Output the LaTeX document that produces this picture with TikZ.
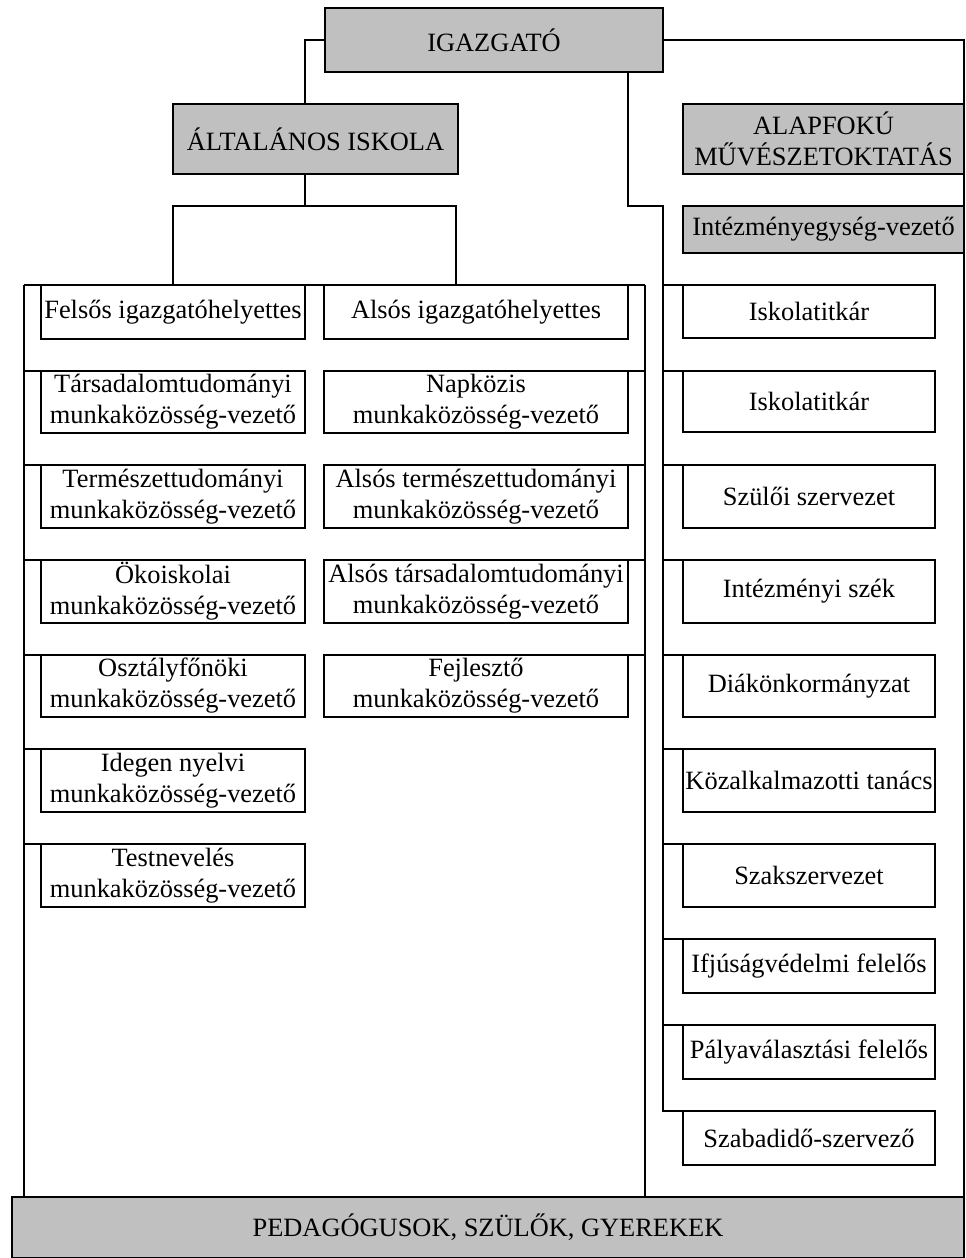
\documentclass[tikz,border=0pt]{standalone}
\usepackage{fontspec}
\setmainfont{Liberation Serif}
\usetikzlibrary{calc}
\definecolor{boxgrey}{RGB}{192,192,192}
\begin{document}
\begin{tikzpicture}[x=0.5pt,y=-0.5pt,
  every path/.style={line width=1pt},
  box/.style={draw, line width=1pt, fill=white, inner sep=0pt, outer sep=0pt,
    align=center, anchor=north west, font=\fontsize{13.2}{15.5}\selectfont},
  head/.style={box, fill=boxgrey},
  sz/.style 2 args={minimum width=#1*0.5pt, minimum height=#2*0.5pt},
  link/.style={draw, line width=1pt, line join=miter}]
\useasboundingbox (0,0) rectangle (965,1258);

% top level
\node[head, sz={338}{64}] (igazgato) at (325,8) {IGAZGATÓ};
\node[head, sz={285}{70}] (altalanos) at (173,104) {ÁLTALÁNOS ISKOLA};
\node[head, sz={281}{70}] (alapfoku) at (683,104) {ALAPFOKÚ\\MŰVÉSZETOKTATÁS};
\node[head, sz={281}{47}] (intvez) at (683,206) {Intézményegység-vezető};
\node[head, sz={952}{61}] (bottom) at (12,1197) {PEDAGÓGUSOK, SZÜLŐK, GYEREKEK};

% left column
\node[box, sz={264}{54}] (felsos) at (41,285) {Felsős igazgatóhelyettes};
\node[box, sz={264}{62}] (tars) at (41,371) {Társadalomtudományi\\munkaközösség-vezető};
\node[box, sz={264}{63}] (term) at (41,465) {Természettudományi\\munkaközösség-vezető};
\node[box, sz={264}{63}] (oko) at (41,560) {Ökoiskolai\\munkaközösség-vezető};
\node[box, sz={264}{62}] (oszt) at (41,655) {Osztályfőnöki\\munkaközösség-vezető};
\node[box, sz={264}{63}] (idegen) at (41,749) {Idegen nyelvi\\munkaközösség-vezető};
\node[box, sz={264}{63}] (testnev) at (41,844) {Testnevelés\\munkaközösség-vezető};

% middle column
\node[box, sz={304}{54}] (also) at (324,285) {Alsós igazgatóhelyettes};
\node[box, sz={304}{62}] (napk) at (324,371) {Napközis\\munkaközösség-vezető};
\node[box, sz={304}{63}] (alsoterm) at (324,465) {Alsós természettudományi\\munkaközösség-vezető};
\node[box, sz={304}{63}] (alsotars) at (324,560) {Alsós társadalomtudományi\\munkaközösség-vezető};
\node[box, sz={304}{62}] (fejl) at (324,655) {Fejlesztő\\munkaközösség-vezető};

% right column
\node[box, sz={252}{53}] (isk1) at (683,285) {Iskolatitkár};
\node[box, sz={252}{61}] (isk2) at (683,371) {Iskolatitkár};
\node[box, sz={252}{63}] (szuloi) at (683,465) {Szülői szervezet};
\node[box, sz={252}{63}] (szek) at (683,560) {Intézményi szék};
\node[box, sz={252}{62}] (diak) at (683,655) {Diákönkormányzat};
\node[box, sz={252}{63}] (kozalk) at (683,749) {Közalkalmazotti tanács};
\node[box, sz={252}{63}] (szaksz) at (683,844) {Szakszervezet};
\node[box, sz={252}{54}] (ifju) at (683,939) {Ifjúságvédelmi felelős};
\node[box, sz={252}{54}] (palya) at (683,1025) {Pályaválasztási felelős};
\node[box, sz={252}{54}] (szabad) at (683,1111) {Szabadidő-szervező};

% spine points
\coordinate (lspine) at (24,285);
\coordinate (mspine) at (645,285);
\coordinate (rspine) at (663,206);
\coordinate (brL) at (173,285);
\coordinate (brR) at (456,285);

% director to the two units
\path[link] (igazgato.west) -| ($(altalanos.north)+(-10.5,0)$);
\path[link] (igazgato.east) -| (bottom.north east);
\path[link] ($(igazgato.south east)+(-35,0)$) |- (rspine)
  -- (rspine |- szabad.north west) -- (szabad.north west);

% general school bracket
\path[link] ($(altalanos.south)+(-10.5,0)$) -- ++(0,32);
\path[link] (brL) -- ++(0,-79) -| (brR);

% spines of the school columns
\path[link] (lspine) -- (mspine);
\path[link] (lspine) -- (lspine |- bottom.north);
\path[link] (mspine) -- (mspine |- bottom.north);

% branches
\foreach \b in {tars,term,oko,oszt,idegen,testnev}
  \path[link] (lspine |- \b.north west) -- (\b.north west);
\foreach \b in {napk,alsoterm,alsotars,fejl}
  \path[link] (\b.north east) -- (mspine |- \b.north east);
\foreach \b in {isk1,isk2,szuloi,szek,diak,kozalk,szaksz,ifju,palya}
  \path[link] (rspine |- \b.north west) -- (\b.north west);
\end{tikzpicture}
\end{document}
